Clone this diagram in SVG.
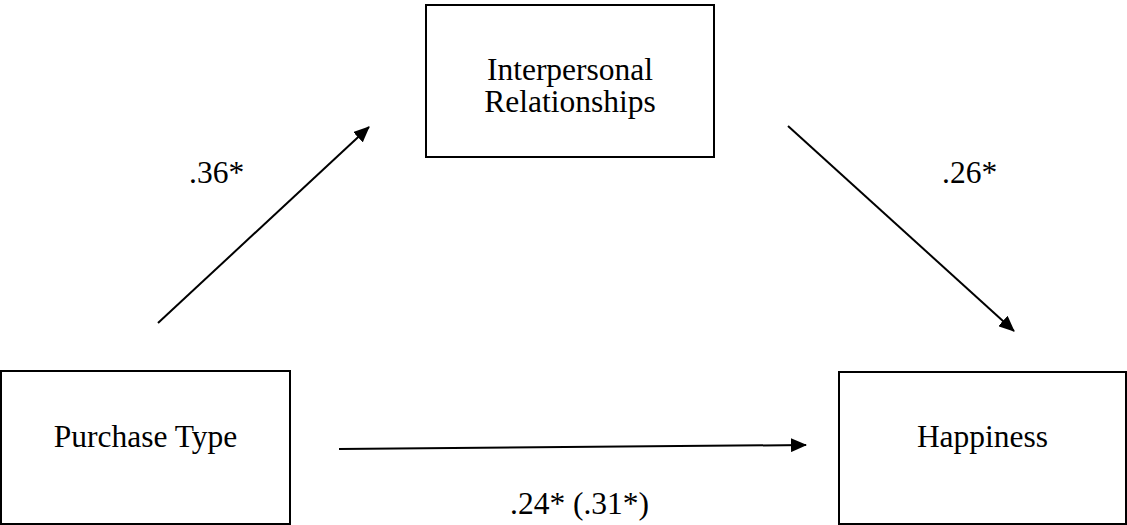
<svg xmlns="http://www.w3.org/2000/svg" width="1127" height="525" viewBox="0 0 1127 525">
<style>
  .box { fill: #fff; stroke: #000; stroke-width: 2; }
  .lbl { font-family: "Liberation Serif", "Times New Roman", serif; font-size: 31.5px; fill: #000; }
  .mid { text-anchor: middle; }
  .conn { stroke: #000; stroke-width: 2; fill: none; marker-end: url(#arrow); }
</style>
<defs>
  <marker id="arrow" markerUnits="userSpaceOnUse" markerWidth="16" markerHeight="14" refX="15" refY="7" orient="auto">
    <path d="M0,0 L16,7 L0,14 z" fill="#000"/>
  </marker>
</defs>
<rect x="0" y="0" width="1127" height="525" fill="#fff"/>
<g id="node-interpersonal">
  <rect class="box" x="426" y="5" width="288" height="152"/>
  <text class="lbl mid" x="570" y="80">Interpersonal</text>
  <text class="lbl mid" x="570" y="112">Relationships</text>
</g>
<g id="node-purchase">
  <rect class="box" x="1" y="371" width="289" height="153"/>
  <text class="lbl mid" x="145.5" y="447">Purchase Type</text>
</g>
<g id="node-happiness">
  <rect class="box" x="839" y="372" width="287" height="152"/>
  <text class="lbl mid" x="982.5" y="447">Happiness</text>
</g>
<g id="connectors">
  <line class="conn" x1="158" y1="323" x2="369" y2="127"/>
  <line class="conn" x1="788" y1="126" x2="1014" y2="331"/>
  <line class="conn" x1="339" y1="449" x2="806" y2="445"/>
  <text class="lbl" x="189" y="183">.36*</text>
  <text class="lbl" x="942" y="183">.26*</text>
  <text class="lbl" x="510" y="514">.24* (.31*)</text>
</g>
</svg>
